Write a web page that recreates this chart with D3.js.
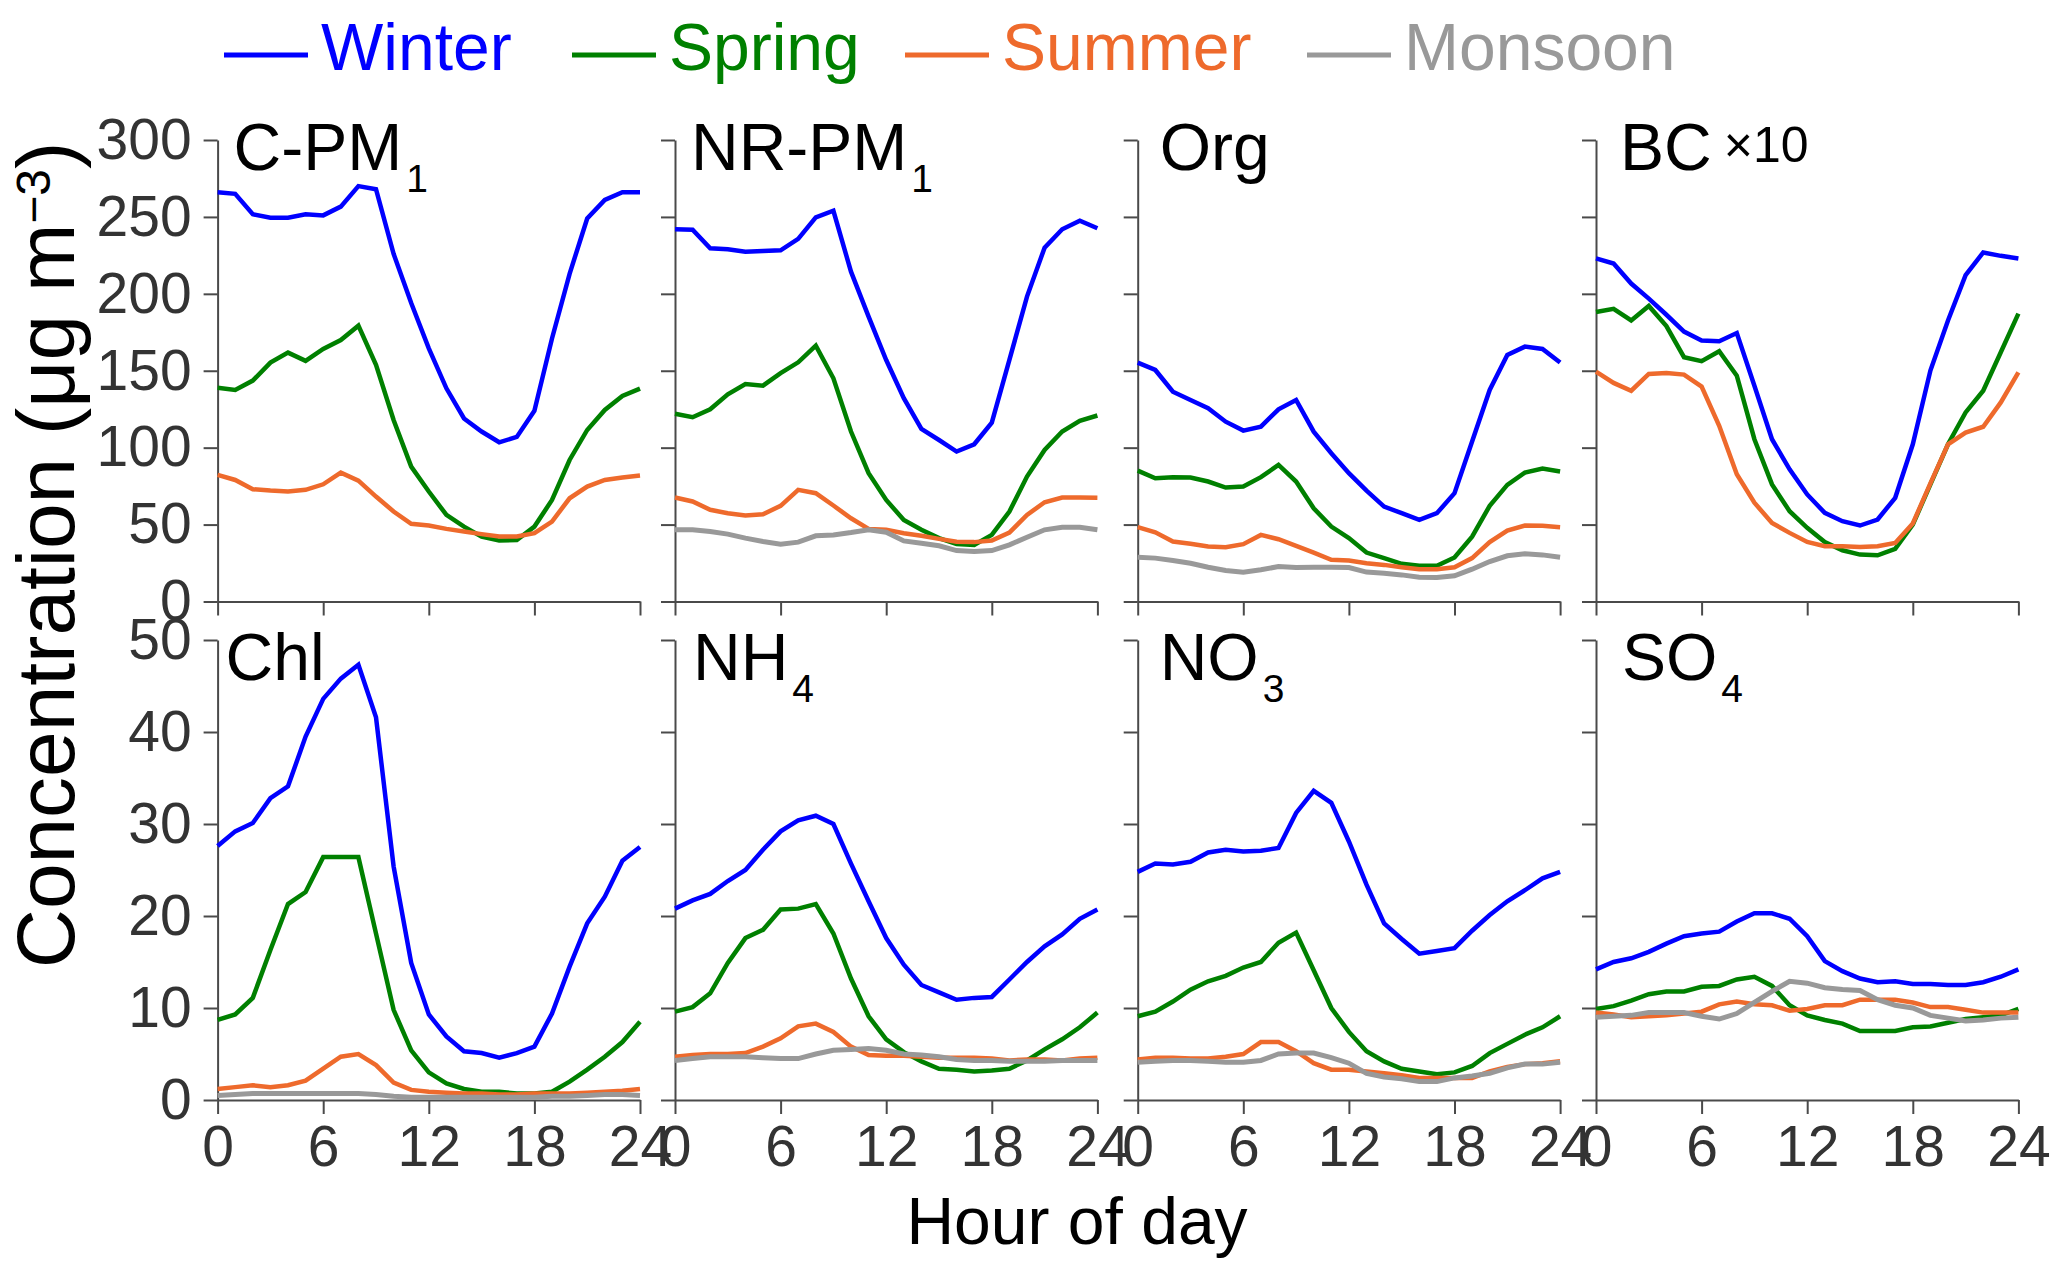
<!DOCTYPE html>
<html>
<head>
<meta charset="utf-8">
<script src="https://cdn.jsdelivr.net/npm/d3@7"></script>
<style>
  body { margin: 0; background: #fff; }
  svg { display: block; }
</style>
</head>
<body>
<script>
// hours of the day, 0..24 (24 repeats hour 0)
var hours = d3.range(0, 25);
var seasons = ["Winter", "Spring", "Summer", "Monsoon"];
var seasonColors = ["#0000ff", "#008000", "#ee6a2c", "#999999"];
var xTicks = [0, 6, 12, 18, 24];
var yTicksTop = [0, 50, 100, 150, 200, 250, 300];
var yTicksBottom = [0, 10, 20, 30, 40, 50];

// C-PM1
var cpm1Winter = [266, 265, 251.7, 249.5, 249.5, 251.7, 251, 256.7, 270, 268, 226, 194, 164.6, 138.6, 119, 110.5, 103.5, 107, 124, 171, 213, 249, 261, 266, 266];
var cpm1Spring = [139, 137.5, 143.6, 155.3, 161.8, 156.4, 164.2, 170, 179.3, 153.8, 118, 87.7, 71.5, 56.3, 48.7, 42.2, 39.6, 39.9, 48.7, 66, 92, 111.5, 124.5, 133.6, 138.4];
var cpm1Summer = [82.3, 79, 73, 72.1, 71.5, 72.6, 76.2, 83.8, 78.6, 68.2, 58.5, 50.5, 49.4, 47.2, 45.5, 43.8, 42.2, 42.2, 44.4, 52, 67.1, 74.7, 79, 80.6, 81.9];

// NR-PM1
var nrpm1Winter = [242, 241.7, 229.6, 229, 227.4, 227.9, 228.3, 235.7, 249.7, 254, 214.4, 185.2, 157, 132.2, 112.2, 105, 97.5, 102.2, 116.3, 157, 198.2, 230, 242, 247.6, 242.6];
var nrpm1Spring = [122, 119.8, 125, 134.7, 141.4, 140.3, 148.4, 155.5, 166.3, 145.1, 110.5, 83.4, 66, 53, 46.6, 41.2, 37.3, 36.8, 43.3, 58.5, 81.2, 98.5, 110.5, 117.4, 120.9];
var nrpm1Summer = [67.6, 65, 59.6, 57.4, 55.9, 56.7, 62.2, 72.6, 70.4, 62.4, 54.1, 47.2, 46.6, 44.4, 42.7, 40.7, 38.8, 38.6, 39.6, 44.8, 56.3, 64.5, 67.6, 67.6, 67.4];
var nrpm1Monsoon = [46.6, 46.6, 45.5, 43.8, 41.2, 39, 37.3, 38.6, 42.7, 43.3, 44.8, 46.6, 45, 39.4, 37.9, 36.2, 33.1, 32.5, 33.1, 36.8, 41.8, 46.6, 48.3, 48.3, 46.6];

// Org
var orgWinter = [155.3, 150.5, 136.4, 131, 125.6, 116.9, 111.1, 113.7, 124.9, 131, 110.4, 96.4, 83.4, 72.1, 61.7, 57.4, 53.1, 57.4, 70.4, 104, 137.5, 160.3, 165.7, 164.2, 155.3];
var orgSpring = [85.1, 80.1, 80.8, 80.6, 78, 74.1, 74.7, 80.8, 88.8, 78, 60.6, 48.7, 41.2, 31.8, 28.2, 24.5, 23.2, 23.2, 28.6, 42.2, 62.2, 75.8, 83.8, 86.4, 84.5];
var orgSummer = [48.3, 45, 39, 37.5, 35.7, 35.3, 37.3, 43.3, 40.5, 36.2, 31.8, 27.1, 26.6, 24.9, 23.8, 22.3, 21, 21, 22.3, 28.2, 38.6, 46.1, 49.4, 49.2, 48.3];
var orgMonsoon = [28.8, 28.2, 26.6, 24.9, 22.3, 20.1, 19.1, 20.6, 22.7, 22.1, 22.3, 22.3, 22.1, 19.1, 18.4, 17.3, 15.8, 15.6, 16.7, 21, 26, 29.7, 31, 30.3, 28.8];

// BC (x10)
var bcWinter = [223, 219.7, 206.7, 196.9, 186.4, 175.5, 169.7, 169.2, 174.5, 140.3, 105.5, 85.9, 69.6, 57.6, 52.2, 49.4, 53.3, 67.4, 102.2, 150.1, 182.7, 212.1, 226.9, 224.7, 223];
var bcSpring = [188.2, 190.3, 182.7, 192.1, 179, 158.8, 156.2, 162.7, 146.8, 105.5, 76.1, 58.7, 47.9, 38.7, 33.3, 30.5, 30, 34.2, 50, 76.1, 102.2, 122.9, 137, 162, 187.1];
var bcSummer = [149.4, 142.1, 137, 147.9, 148.6, 147.5, 139.7, 114.2, 82.7, 64.2, 51.1, 44.6, 38.7, 35.9, 35.9, 35.5, 35.9, 38.1, 50.7, 76.8, 102.2, 109.8, 113.6, 129.4, 149];

// Chl
var chlWinter = [27.6, 29.2, 30.1, 32.8, 34.1, 39.5, 43.6, 45.8, 47.3, 41.6, 25.4, 14.9, 9.3, 6.9, 5.3, 5.1, 4.6, 5.1, 5.8, 9.4, 14.5, 19.2, 22.1, 26, 27.5];
var chlSpring = [8.7, 9.3, 11.1, 16.3, 21.3, 22.6, 26.4, 26.4, 26.4, 18.1, 9.8, 5.4, 3, 1.8, 1.2, 0.9, 0.9, 0.7, 0.7, 0.9, 2, 3.3, 4.7, 6.3, 8.5];
var chlSummer = [1.2, 1.4, 1.6, 1.4, 1.6, 2.1, 3.4, 4.7, 5, 3.8, 1.9, 1.1, 0.9, 0.8, 0.7, 0.7, 0.6, 0.6, 0.7, 0.7, 0.7, 0.8, 0.9, 1, 1.2];
var chlMonsoon = [0.5, 0.6, 0.7, 0.7, 0.7, 0.7, 0.7, 0.7, 0.7, 0.6, 0.4, 0.3, 0.3, 0.3, 0.3, 0.3, 0.3, 0.3, 0.3, 0.4, 0.4, 0.5, 0.6, 0.6, 0.5];

// NH4
var nh4Winter = [20.8, 21.7, 22.4, 23.8, 25, 27.2, 29.2, 30.4, 30.9, 30, 25.7, 21.6, 17.6, 14.7, 12.5, 11.7, 10.9, 11.1, 11.2, 13.1, 15, 16.7, 18, 19.7, 20.7];
var nh4Spring = [9.6, 10.1, 11.6, 14.9, 17.6, 18.5, 20.7, 20.8, 21.3, 18.1, 13.2, 9.1, 6.6, 5.2, 4.2, 3.4, 3.3, 3.1, 3.2, 3.4, 4.3, 5.5, 6.6, 7.9, 9.5];
var nh4Summer = [4.7, 4.9, 5, 5, 5.1, 5.8, 6.7, 8, 8.3, 7.4, 5.8, 4.9, 4.8, 4.8, 4.7, 4.6, 4.6, 4.6, 4.5, 4.3, 4.4, 4.4, 4.3, 4.5, 4.6];
var nh4Monsoon = [4.3, 4.5, 4.7, 4.7, 4.7, 4.6, 4.5, 4.5, 5, 5.4, 5.5, 5.6, 5.4, 5, 4.9, 4.7, 4.4, 4.3, 4.3, 4.2, 4.2, 4.2, 4.3, 4.3, 4.3];

// NO3
var no3Winter = [24.8, 25.7, 25.6, 25.9, 26.9, 27.2, 27, 27.1, 27.4, 31.2, 33.6, 32.3, 28.1, 23.4, 19.2, 17.5, 15.9, 16.2, 16.5, 18.4, 20.1, 21.6, 22.8, 24.1, 24.8];
var no3Spring = [9.1, 9.6, 10.7, 12, 12.9, 13.5, 14.4, 15, 17.1, 18.2, 14.1, 10, 7.4, 5.3, 4.2, 3.4, 3.1, 2.8, 3, 3.7, 5.1, 6.1, 7.1, 7.9, 9.1];
var no3Summer = [4.4, 4.6, 4.6, 4.5, 4.5, 4.7, 5, 6.3, 6.3, 5.3, 4, 3.3, 3.3, 3.1, 2.9, 2.7, 2.4, 2.4, 2.4, 2.4, 3.1, 3.6, 3.9, 4, 4.2];
var no3Monsoon = [4.1, 4.2, 4.3, 4.3, 4.2, 4.1, 4.1, 4.3, 5, 5.1, 5.1, 4.6, 4, 2.9, 2.5, 2.3, 2, 2, 2.4, 2.6, 2.9, 3.5, 3.9, 3.9, 4.1];

// SO4
var so4Winter = [14.2, 15, 15.4, 16.1, 17, 17.8, 18.1, 18.3, 19.4, 20.3, 20.3, 19.7, 17.8, 15.1, 14, 13.2, 12.8, 12.9, 12.6, 12.6, 12.5, 12.5, 12.8, 13.4, 14.2];
var so4Spring = [9.9, 10.2, 10.8, 11.5, 11.8, 11.8, 12.3, 12.4, 13.1, 13.4, 12.4, 10.3, 9.2, 8.7, 8.3, 7.5, 7.5, 7.5, 7.9, 8, 8.4, 8.8, 9, 9.2, 9.9];
var so4Summer = [9.5, 9.3, 9, 9.1, 9.2, 9.4, 9.6, 10.4, 10.7, 10.4, 10.3, 9.7, 9.9, 10.3, 10.3, 10.9, 10.9, 10.9, 10.6, 10.1, 10.1, 9.8, 9.5, 9.5, 9.5];
var so4Monsoon = [9, 9.1, 9.2, 9.5, 9.5, 9.5, 9.1, 8.8, 9.4, 10.6, 11.8, 12.9, 12.7, 12.2, 12, 11.9, 10.9, 10.3, 10, 9.2, 8.9, 8.6, 8.7, 8.9, 9];

// panel names (main text / subscript), order: row by row
var panelNames = ["C-PM", "NR-PM", "Org", "BC", "Chl", "NH", "NO", "SO"];
var panelSubs = ["1", "1", "", "", "", "4", "3", "4"];
var panelSeries = [
    [cpm1Winter, cpm1Spring, cpm1Summer, null],
    [nrpm1Winter, nrpm1Spring, nrpm1Summer, nrpm1Monsoon],
    [orgWinter, orgSpring, orgSummer, orgMonsoon],
    [bcWinter, bcSpring, bcSummer, null],
    [chlWinter, chlSpring, chlSummer, chlMonsoon],
    [nh4Winter, nh4Spring, nh4Summer, nh4Monsoon],
    [no3Winter, no3Spring, no3Summer, no3Monsoon],
    [so4Winter, so4Spring, so4Summer, so4Monsoon]
];

//==============================================
// layout
var W = 2067, H = 1278;
var font = "'Liberation Sans', Arial, sans-serif";
var colX = [217.6, 675, 1137.7, 1596];
var pw = 422.4;
var rowY = [140, 640];
var rowH = [461.5, 460];
var titleDx = [16, 16, 22, 24, 8, 18, 22, 26];
var titleBase = [30, 40];
var axisColor = "#4a4a4a";
var tickColor = "#333333";

var svg = d3.select("body").append("svg")
    .attr("width", W)
    .attr("height", H)
    .style("font-family", font);

var x = d3.scaleLinear().domain([0, 24]).range([0, pw]);

panelSeries.forEach(function(series, p) {
    var row = Math.floor(p / 4);
    var col = p % 4;
    var g = svg.append("g")
        .attr("transform", "translate(" + colX[col] + "," + rowY[row] + ")");

    var y = d3.scaleLinear()
        .domain(row == 0 ? [0, 300] : [0, 50])
        .range([rowH[row], 0]);

    // y axis
    var yAxis = d3.axisLeft(y)
        .tickValues(row == 0 ? yTicksTop : yTicksBottom)
        .tickSize(14)
        .tickSizeOuter(0)
        .tickPadding(12);
    if(col != 0) yAxis.tickFormat("");
    var ya = g.append("g").call(yAxis);

    // x axis
    var xAxis = d3.axisBottom(x)
        .tickValues(xTicks)
        .tickSize(14)
        .tickSizeOuter(0)
        .tickPadding(12);
    if(row == 0) xAxis.tickFormat("");
    var xa = g.append("g")
        .attr("transform", "translate(0," + rowH[row] + ")")
        .call(xAxis);

    [ya, xa].forEach(function(a) {
        a.select(".domain").attr("stroke", axisColor).attr("stroke-width", 2);
        a.selectAll(".tick line").attr("stroke", axisColor).attr("stroke-width", 2);
        a.selectAll(".tick text")
            .attr("fill", tickColor)
            .style("font-size", "57px")
            .style("font-family", font);
    });

    // lines
    var line = d3.line()
        .x(function(d, i) { return x(hours[i]); })
        .y(function(d) { return y(d); });

    series.forEach(function(vals, s) {
        if(!vals) return;
        g.append("path")
            .datum(vals)
            .attr("d", line)
            .attr("fill", "none")
            .attr("stroke", seasonColors[s])
            .attr("stroke-width", s == 3 ? 5 : 4.5)
            .attr("stroke-linejoin", "miter");
    });

    // panel title
    var t = g.append("text")
        .attr("x", titleDx[p])
        .attr("y", titleBase[row])
        .attr("fill", "#000")
        .style("font-size", "66px")
        .text(panelNames[p]);
    if(panelSubs[p] != "") {
        t.append("tspan")
            .attr("dx", 4)
            .attr("dy", 22)
            .style("font-size", "39px")
            .text(panelSubs[p]);
    }
    if(panelNames[p] == "BC") {
        t.append("tspan")
            .attr("dx", 12)
            .attr("dy", -8)
            .style("font-size", "50px")
            .text("×10");
    }
});

// legend
var legX = [224, 572, 905, 1307];
var leg = svg.selectAll("g.legend")
    .data(seasons)
    .enter()
    .append("g")
    .attr("class", "legend")
    .attr("transform", function(d, i) { return "translate(" + legX[i] + ",0)"; });
leg.append("line")
    .attr("x1", 0).attr("x2", 84)
    .attr("y1", 55).attr("y2", 55)
    .attr("stroke", function(d, i) { return seasonColors[i]; })
    .attr("stroke-width", 5);
leg.append("text")
    .attr("x", 97)
    .attr("y", 70)
    .attr("fill", function(d, i) { return seasonColors[i]; })
    .style("font-size", "66px")
    .text(function(d) { return d; });

// axis titles
svg.append("text")
    .attr("x", 1077)
    .attr("y", 1244)
    .attr("text-anchor", "middle")
    .style("font-size", "66px")
    .attr("fill", "#000")
    .text("Hour of day");

var yl = svg.append("text")
    .attr("transform", "translate(74,555) rotate(-90)")
    .attr("text-anchor", "middle")
    .style("font-size", "82px")
    .attr("fill", "#000");
yl.append("tspan").text("Concentration (μg m");
yl.append("tspan").attr("dy", -24).style("font-size", "48px").text("−3");
yl.append("tspan").attr("dy", 24).text(")");
</script>
</body>
</html>
